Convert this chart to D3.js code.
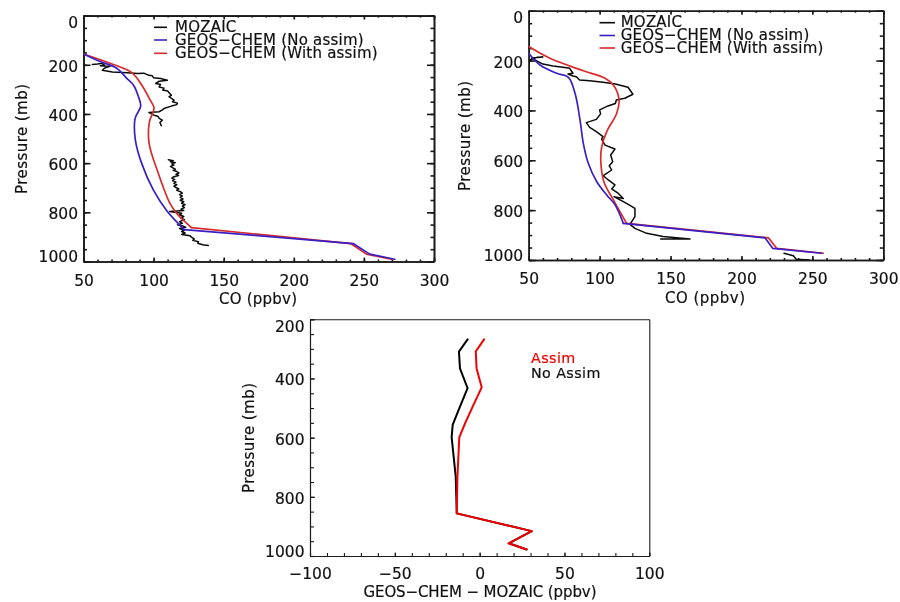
<!DOCTYPE html>
<html><head><meta charset="utf-8">
<script src="https://cdn.jsdelivr.net/npm/d3@7/dist/d3.min.js"></script>
<style>
html,body{margin:0;padding:0;background:#fff}
svg{display:block;filter:blur(0.5px)}
text{font-family:"DejaVu Sans",sans-serif;fill:#111;stroke:#111;stroke-width:.2px}
.tick text{font-size:15.5px}
.title{font-size:15px}
.leg{font-size:15px;letter-spacing:.22px}
.legc{font-size:14.3px;letter-spacing:.4px}
</style></head><body>
<svg id="c" width="900" height="602"></svg>
<script>
// Panel A : [CO ppbv, pressure mb]
const aMozaicUpper=[[56.3,199],[60,197],[63.4,194],[65.1,202],[62,204],[68.9,206],[66,211],[64.6,216],[63.4,222],[70.6,229],[81.3,232],[88.4,235],[93,234],[96.7,243],[99.1,245],[100,253],[105,256],[109.8,263],[104,267],[101.5,276],[105,280],[103.9,290],[107.4,295],[106.5,303],[110,307],[112.7,324],[111,330],[114.6,344],[113.5,350],[117,356],[116.5,362],[112.7,368],[107.4,378],[106,384],[103.9,391],[96.7,394],[100.3,405],[103,409],[104,418],[106.2,425],[104.5,435],[105.5,448]];
const aMozaicLower=[[110.5,586],[114,590],[112,594],[115.5,598],[113,603],[114.5,608],[112,613],[113.5,618],[115.5,624],[114,629],[116.5,634],[118,640],[116,645],[117.8,650],[114.5,655],[113,661],[115,666],[113.5,671],[116,677],[114.5,682],[116.5,688],[114.5,694],[116,699],[118,705],[116.5,710],[119,716],[120.5,722],[118.5,728],[120.5,733],[119,739],[121,745],[119,751],[121.5,757],[120,763],[122.5,769],[120.5,775],[122,781],[119.5,787],[121.5,793],[111.5,797],[120,804],[118.5,810],[121.5,817],[119.5,823],[122,830],[118.5,838],[120.5,845],[117,851],[121,856],[123,861],[118.5,866],[122,872],[120,878],[122.5,884],[120,890],[126,895],[127,901],[129,908],[128,914],[132,920],[131.5,926],[135,932],[139,935]];
const aNoAssim=[[50,156],[61.9,187],[73.7,214],[80.9,255],[85.6,282],[89.2,330],[90.8,368],[86.8,418],[87,506],[91.5,601],[99.9,710],[109.4,794],[116.5,839],[121.7,870],[242.3,927],[254.2,970],[272,991]];
const aWithAssim=[[50,156],[69,194],[84.4,232],[91.5,282],[97.5,343],[100.3,377],[97,432],[96.8,520],[103.4,642],[111.7,764],[116.5,805],[127,862],[240.6,927],[251.8,970],[269.6,991]];
// Panel B
const bMozaicUpper=[[50.7,198],[56.1,187],[60,186],[52,190],[60,214],[67.1,222],[74.2,227],[78.9,231],[81.2,251],[77.7,254],[81.2,262],[83.6,265],[85.9,278],[93,281],[102.4,287],[111.1,294],[120,307],[123.5,335],[117.7,351],[111.8,358],[111.1,372],[105.9,382],[100,398],[100.7,414],[97.7,436],[90.6,449],[93,468],[97.7,485],[102.4,505],[101.4,515],[103.8,539],[110.8,555],[107.8,579],[109.2,606],[106.8,622],[108.5,639],[102.6,662],[106.1,679],[110.8,699],[108.5,715],[113.2,733],[116.7,753],[110.1,746],[116.7,766],[120.2,777],[124.9,793],[124.9,826],[121.4,857],[124.9,873],[133.2,893],[144.7,906],[163.7,916],[143,916]];
const bMozaicLower=[[230,973],[236.6,983],[238.6,997],[248,1000]];
const bNoAssim=[[50,171],[58,218],[69.7,251],[78,267],[82.7,332],[86.2,439],[88.5,532],[92,612],[98,686],[105,739],[110.9,779],[116.7,853],[216.6,911],[222,953],[256.6,973]];
const bWithAssim=[[50,144],[65,191],[88.5,241],[103.8,271],[109.7,298],[113.7,358],[112,412],[105,485],[101.5,545],[100.8,599],[103,686],[109.7,759],[119,853],[219,911],[224.8,953],[257.7,973]];
// Panel C : difference
const cNoAssim=[[-7.1,268],[-12.2,309],[-11.6,366],[-7.1,433],[-11.6,495],[-15.9,557],[-16.5,599],[-14.1,732],[-13.5,856],[30.7,916],[17.1,957],[27.7,978]];
const cAssim=[[2.6,268],[-2.3,309],[-1.8,366],[1.2,430],[-3.7,490],[-8.6,552],[-12,599],[-13.1,732],[-13.5,856],[30.7,916],[17.1,957],[27.7,978]];
// Tick values
const coTicks=[50,100,150,200,250,300];
const pTicks=[0,200,400,600,800,1000];
const pTicksC=[200,400,600,800,1000];
const diffTicks=[-100,-50,0,50,100];
const legendAB=["MOZAIC","GEOS\u2212CHEM (No assim)","GEOS\u2212CHEM (With assim)"];
const BLUE="#3a20c4",RED="#d92a2c",BLK="#0a0a0a";

const svg=d3.select("#c");
const range=(a,b,s)=>d3.range(a,b+s/2,s);

function panel(o){
  const x=d3.scaleLinear().domain(o.xd).range([o.l,o.r]);
  const y=d3.scaleLinear().domain(o.yd).range([o.t,o.b]);
  const straight=d3.line().x(d=>x(d[0])).y(d=>y(d[1]));
  const smooth=d3.line().x(d=>x(d[0])).y(d=>y(d[1])).curve(d3.curveCatmullRom.alpha(0.5));
  const g=svg.append("g");
  const clipId="clip"+o.id;
  g.append("clipPath").attr("id",clipId).append("rect").attr("x",o.l).attr("y",o.t).attr("width",o.r-o.l).attr("height",o.b-o.t);
  const ax=(gen,tr)=>{const a=g.append("g").attr("transform",tr).call(gen);
    a.selectAll("path,line").attr("stroke","#1a1a1a").attr("stroke-width",o.axw);return a;};
  const mx=range(o.xd[0],o.xd[1],o.xminor), my=range(o.yd[0],o.yd[1],50);
  const none=()=>"";
  ax(d3.axisBottom(x).tickValues(mx).tickSizeInner(-o.xmin).tickSizeOuter(0).tickFormat(none),`translate(0,${o.b})`);
  ax(d3.axisLeft(y).tickValues(my).tickSizeInner(-o.ymin).tickSizeOuter(0).tickFormat(none),`translate(${o.l},0)`);
  ax(d3.axisTop(x).tickValues(o.mirror?mx:[]).tickSizeInner(-o.xmin).tickSizeOuter(0).tickFormat(none),`translate(0,${o.t})`);
  ax(d3.axisRight(y).tickValues(o.mirror?my:[]).tickSizeInner(-o.ymin).tickSizeOuter(0).tickFormat(none),`translate(${o.r},0)`);
  const bot=ax(d3.axisBottom(x).tickValues(o.xt).tickSizeInner(-o.xmaj).tickSizeOuter(0).tickPadding(o.xpad).tickFormat(d=>d<0?"\u2212"+(-d):d),`translate(0,${o.b})`);
  const lef=ax(d3.axisLeft(y).tickValues(o.yt).tickSizeInner(-o.ymaj).tickSizeOuter(0).tickPadding(5.5).tickFormat(d3.format("d")),`translate(${o.l},0)`);
  bot.selectAll(".tick text").attr("dy","0.71em");
  lef.selectAll(".tick text").attr("dy",d=>d===o.yt[0]?"0.76em":d===1000?"0.0em":"0.42em");
  if(o.mirror){
    ax(d3.axisTop(x).tickValues(o.xt).tickSizeInner(-o.xmaj).tickSizeOuter(0).tickFormat(none),`translate(0,${o.t})`);
    ax(d3.axisRight(y).tickValues(o.yt).tickSizeInner(-o.ymaj).tickSizeOuter(0).tickFormat(none),`translate(${o.r},0)`);
  }
  o.series.forEach(s=>{
    const draw=p=>g.append("path").attr("clip-path",`url(#${clipId})`).attr("d",p).attr("fill","none")
      .attr("stroke",s.c).attr("stroke-width",s.w).attr("stroke-linejoin","round").attr("stroke-linecap","round");
    if(s.kink){ // smooth above the boundary-layer kink, straight below it
      const i=s.d.length-s.kink;
      draw(smooth(s.d.slice(0,i))); draw(straight(s.d.slice(i-1)));
    } else draw(straight(s.d));
  });
  g.append("text").attr("class","title").attr("x",o.xtx).attr("y",o.xty).attr("text-anchor","middle")
    .attr("textLength",o.xlen).attr("lengthAdjust","spacing").text(o.xlabel);
  g.append("text").attr("class","title").attr("transform",`translate(${o.ytx},${o.yty}) rotate(-90)`).attr("text-anchor","middle")
    .attr("textLength",110).attr("lengthAdjust","spacing").text("Pressure (mb)");
  return g;
}
function legendLines(g,x0,x1,tx,ys){
  const t=g.append("text").attr("class","leg");
  [BLK,BLUE,RED].forEach((c,i)=>{
    g.append("line").attr("x1",x0).attr("x2",x1).attr("y1",ys[i]).attr("y2",ys[i]).attr("stroke",c).attr("stroke-width",1.6);
    t.append("tspan").attr("x",tx).attr("y",ys[i]+4.7).text(legendAB[i]);
  });
}
const a=panel({id:"a",l:83.5,r:434,t:15.6,b:261.5,xd:[50,300],yd:[0,1000],xt:coTicks,yt:pTicks,xminor:10,xmaj:4,xmin:2,ymaj:7,ymin:3.5,mirror:true,axw:1.6,xpad:13,
  series:[{d:aMozaicUpper,c:BLK,w:1.5},{d:aMozaicLower,c:BLK,w:1.5},{d:aWithAssim,c:RED,w:1.7,kink:3},{d:aNoAssim,c:BLUE,w:1.7,kink:3}],
  xlabel:"CO (ppbv)",xlen:78,xtx:258,xty:304,ytx:27,yty:139});
legendLines(a,154,167,175,[27.3,40,53.3]);
const b=panel({id:"b",l:528.7,r:883.3,t:10.7,b:260,xd:[50,300],yd:[0,1000],xt:coTicks,yt:pTicks,xminor:10,xmaj:4,xmin:2,ymaj:7,ymin:3.5,mirror:true,axw:1.6,xpad:13,
  series:[{d:bMozaicUpper,c:BLK,w:1.5},{d:bMozaicLower,c:BLK,w:1.5},{d:bWithAssim,c:RED,w:1.7,kink:3},{d:bNoAssim,c:BLUE,w:1.7,kink:3}],
  xlabel:"CO (ppbv)",xlen:80,xtx:705,xty:303,ytx:470,yty:136});
legendLines(b,599.5,615,620.7,[22.7,35.5,48]);
const c=panel({id:"c",l:310,r:649.3,t:319.3,b:556,xd:[-100,100],yd:[200,1000],xt:diffTicks,yt:pTicksC,xminor:10,xmaj:3.5,xmin:3,ymaj:5,ymin:4,mirror:false,axw:1.1,xpad:12,
  series:[{d:cNoAssim,c:"#000",w:2},{d:cAssim,c:"#f00000",w:2}],
  xlabel:"GEOS\u2212CHEM \u2212 MOZAIC (ppbv)",xlen:233,xtx:480,xty:597,ytx:254,yty:438});
c.append("text").attr("class","legc").attr("x",531).attr("y",363).style("fill","#f00000").style("stroke","#f00000").text("Assim");
c.append("text").attr("class","legc").attr("x",531).attr("y",378).text("No Assim");
</script></body></html>
